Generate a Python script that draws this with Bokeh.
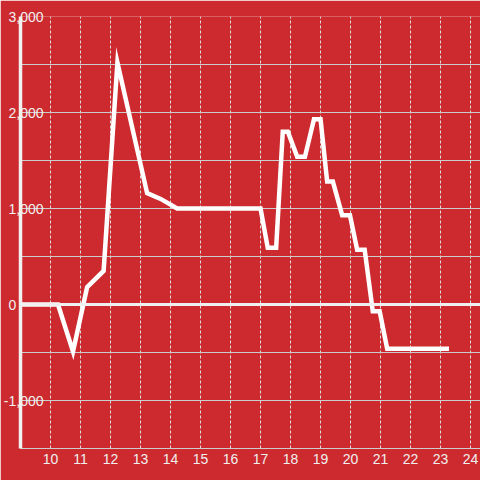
from bokeh.plotting import figure
from bokeh.models import Range1d, FixedTicker, NumeralTickFormatter, Span
from bokeh.embed import file_html
from bokeh.resources import INLINE

# data
hours = [9, 10.25, 10.75, 11.22, 11.77, 12.23, 13.22, 13.67, 14.22, 17.0, 17.24, 17.52,
         17.74, 17.91, 18.22, 18.48, 18.78, 19.0, 19.22, 19.41, 19.72, 19.98, 20.22,
         20.47, 20.74, 20.97, 21.22, 23.28]
values = [0, 0, -490, 180, 350, 2520, 1160, 1100, 1000, 1000, 590, 590,
          1800, 1800, 1540, 1540, 1930, 1930, 1280, 1280, 930, 930, 570,
          570, -70, -70, -460, -460]
x_ticks = list(range(10, 25))
y_label_ticks = [-1000, 0, 1000, 2000, 3000]
y_grid_ticks = [-1500, -1000, -500, 0, 500, 1000, 1500, 2000, 2500, 3000]

BG = "#cc2a2f"
FG = "#f0f0f0"
FONT = "Liberation Sans"

p = figure(width=480, height=480, output_backend="svg", toolbar_location=None,
           x_range=Range1d(9, 24.33), y_range=Range1d(-1500, 3000),
           min_border_left=20, min_border_right=0, min_border_top=16, min_border_bottom=32)
p.background_fill_color = BG
p.border_fill_color = BG
p.outline_line_color = None

# grids
p.xgrid.ticker = FixedTicker(ticks=x_ticks)
p.xgrid.grid_line_color = "#dddddd"
p.xgrid.grid_line_dash = "3 2"
p.xgrid.grid_line_width = 1
p.ygrid.ticker = FixedTicker(ticks=y_grid_ticks)
p.ygrid.grid_line_color = "#cccccc"
p.ygrid.grid_line_width = 1

# x axis
p.xaxis.ticker = FixedTicker(ticks=x_ticks)
p.xaxis.axis_line_color = "#cccccc"
p.xaxis.major_tick_line_color = None
p.xaxis.minor_tick_line_color = None
p.xaxis.major_tick_out = 0
p.xaxis.major_label_standoff = 5
p.xaxis.major_label_text_color = FG
p.xaxis.major_label_text_font = FONT
p.xaxis.major_label_text_font_size = "14px"

# y axis
p.yaxis.ticker = FixedTicker(ticks=y_label_ticks)
p.yaxis.formatter = NumeralTickFormatter(format="0,0")
p.yaxis.major_label_overrides = {0: "0" + "\u00a0" * 7}
p.yaxis.axis_line_color = FG
p.yaxis.axis_line_width = 3.5
p.yaxis.major_tick_line_color = None
p.yaxis.minor_tick_line_color = None
p.yaxis.major_tick_out = 0
p.yaxis.major_tick_in = 0
p.yaxis.major_label_standoff = -23
p.yaxis.major_label_text_color = FG
p.yaxis.major_label_text_font = FONT
p.yaxis.major_label_text_font_size = "14px"

# zero line
p.add_layout(Span(location=0, dimension="width", line_color=FG, line_width=3))

p.line(hours, values, line_color="white", line_width=4.5, line_join="miter")

open("out.html", "w").write(file_html(p, INLINE))
